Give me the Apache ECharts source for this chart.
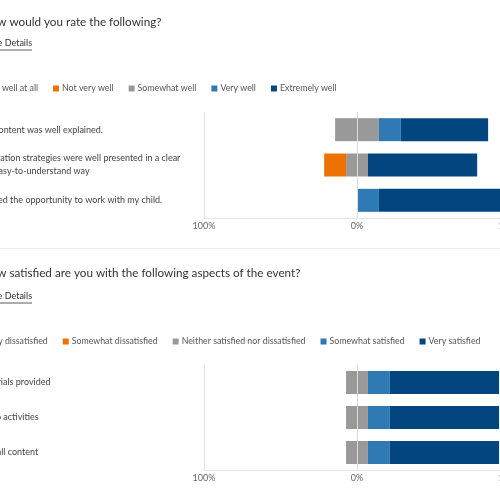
<!DOCTYPE html>
<html>
<head>
<meta charset="utf-8">
<script src="https://cdn.jsdelivr.net/npm/echarts@6/dist/echarts.min.js"></script>
<style>
  html, body { margin: 0; padding: 0; background: #fff; overflow: hidden; }
  #wrap { position: relative; width: 500px; height: 499px; overflow: hidden; }
  /* the page is scrolled sideways, so the left edge of the survey is cut off */
  #chart { position: absolute; left: -150px; top: 0; width: 700px; height: 499px; }
</style>
</head>
<body>
<div id="wrap"><div id="chart"></div></div>
<script>
var FONT = 'Lato, "Segoe UI", "Noto Sans", sans-serif';

// question 1
var rateTitle = 'How would you rate the following?';
var rateCats = [
    'The content was well explained.',
    'Motivation strategies were well presented in a clear\nand easy-to-understand way',
    'I valued the opportunity to work with my child.'
];
var rateLevels = ['Not well at all', 'Not very well', 'Somewhat well', 'Very well', 'Extremely well'];
var rateNotAtAll = [0, 0, 0];
var rateNotVery = [0, 14.3, 0];
var rateSomewhat = [28.6, 14.3, 0];
var rateVery = [14.3, 0, 14.3];
var rateExtremely = [57.1, 71.4, 85.7];

// question 2
var satTitle = 'How satisfied are you with the following aspects of the event?';
var satCats = ['Materials provided', 'Demo activities', 'Overall content'];
var satLevels = ['Very dissatisfied', 'Somewhat dissatisfied', 'Neither satisfied nor dissatisfied', 'Somewhat satisfied', 'Very satisfied'];
var satVeryDis = [0, 0, 0];
var satSomeDis = [0, 0, 0];
var satNeither = [14.3, 14.3, 14.3];
var satSomeSat = [14.3, 14.3, 14.3];
var satVerySat = [71.4, 71.4, 71.4];

var xTicks = { '-100': '100%', '0': '0%', '100': '100%' };
var colors = ['#b8452a', '#ed7103', '#999999', '#2f79b4', '#03467f'];

function neg(arr) { return arr.map(function(v) { return -v; }); }
function half(arr, sign) { return arr.map(function(v) { return sign * v / 2; }); }

function bar(name, color, data, idx) {
    return {
        name: name,
        type: 'bar',
        xAxisIndex: idx,
        yAxisIndex: idx,
        stack: 'q' + idx,
        barWidth: 23,
        data: data,
        itemStyle: { color: color },
        emphasis: { disabled: true },
        silent: true
    };
}

// neutral answers are split across 0, negatives stack leftwards from the middle
function questionSeries(levels, a, b, c, d, e, idx) {
    var list = [
        bar(levels[2], colors[2], half(c, -1), idx),
        bar(levels[1], colors[1], neg(b), idx),
        bar(levels[0], colors[0], neg(a), idx),
        bar(levels[2], colors[2], half(c, 1), idx),
        bar(levels[3], colors[3], d, idx),
        bar(levels[4], colors[4], e, idx)
    ];
    // the 0% gridline sits on top of the bars
    list[5].markLine = {
        silent: true,
        symbol: 'none',
        label: { show: false },
        lineStyle: { color: '#dcdcdc', type: 'solid', width: 1 },
        data: [{ xAxis: 0 }]
    };
    return list;
}

function xAxis(idx) {
    return {
        type: 'value',
        gridIndex: idx,
        min: -100,
        max: 100,
        interval: 100,
        axisLine: { show: true, lineStyle: { color: '#e4e4e4' } },
        axisTick: { show: false },
        splitLine: { show: true, lineStyle: { color: '#e4e4e4' } },
        axisLabel: {
            margin: 4,
            fontSize: 9,
            fontFamily: FONT,
            color: '#666',
            formatter: function(v) { return xTicks[String(v)]; }
        }
    };
}

function yAxis(idx, cats) {
    return {
        type: 'category',
        gridIndex: idx,
        inverse: true,
        data: cats,
        axisLine: { show: false },
        axisTick: { show: false },
        splitLine: { show: false },
        axisLabel: {
            align: 'left',
            margin: 227,
            fontSize: 9,
            lineHeight: 13,
            fontFamily: FONT,
            color: '#444'
        }
    };
}

function legend(levels, left, top) {
    return {
        data: levels,
        left: left,
        top: top,
        icon: 'rect',
        itemWidth: 6,
        itemHeight: 6,
        itemGap: 15,
        selectedMode: false,
        textStyle: { fontSize: 8.8, fontFamily: FONT, color: '#555', padding: [0, 0, 0, -2] }
    };
}

function details(x, y) {
    return {
        type: 'group',
        children: [
            { type: 'text', x: x, y: y, style: { text: 'See Details', fontSize: 9, fontFamily: FONT, fill: '#333' } },
            { type: 'line', shape: { x1: x, y1: y + 11, x2: x + 44, y2: y + 11 }, style: { stroke: '#333', lineWidth: 0.8 } }
        ]
    };
}

var chart = echarts.init(document.getElementById('chart'));

var option = {
    animation: false,
    title: [
        { text: rateTitle, left: 127, top: 11, textStyle: { fontSize: 11.7, fontWeight: 'normal', fontFamily: FONT, color: '#333' } },
        { text: satTitle, left: 127, top: 262, textStyle: { fontSize: 11.7, fontWeight: 'normal', fontFamily: FONT, color: '#333' } }
    ],
    legend: [legend(rateLevels, 121, 79), legend(satLevels, 121, 332)],
    grid: [
        { left: 354, width: 306, top: 112, height: 106 },
        { left: 354, width: 306, top: 365, height: 105 }
    ],
    xAxis: [xAxis(0), xAxis(1)],
    yAxis: [yAxis(0, rateCats), yAxis(1, satCats)],
    series: questionSeries(rateLevels, rateNotAtAll, rateNotVery, rateSomewhat, rateVery, rateExtremely, 0)
        .concat(questionSeries(satLevels, satVeryDis, satSomeDis, satNeither, satSomeSat, satVerySat, 1)),
    graphic: [
        details(138, 39),
        details(138, 292),
        { type: 'line', shape: { x1: 150, y1: 248.5, x2: 660, y2: 248.5 }, style: { stroke: '#ececec', lineWidth: 1 } }
    ]
};

chart.setOption(option);
</script>
</body>
</html>
